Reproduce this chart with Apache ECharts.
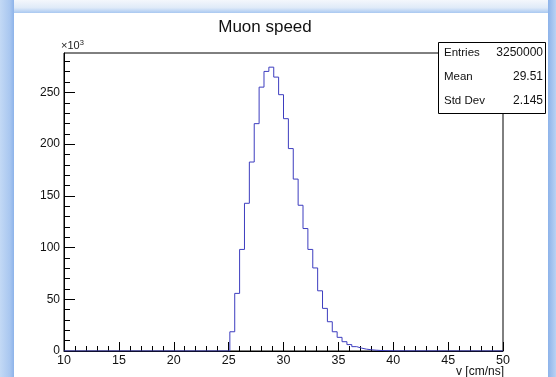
<!DOCTYPE html>
<html>
<head>
<meta charset="utf-8">
<script src="https://cdn.jsdelivr.net/npm/echarts@6/dist/echarts.min.js"></script>
<style>
html,body{margin:0;padding:0;background:#ffffff;}
#c{width:556px;height:377px;}
</style>
</head>
<body>
<div id="c"></div>
<script>
// ---- data ----
const xRange = [10, 50];
const nBins = 90;
const firstBin = 34; // index of first non-empty bin
// bin contents in thousands (x10^3)
const counts = [18.6, 55.7, 98.2, 142.8, 182.7, 219.8, 255.1, 270.3, 274.4, 264.8,
  247.8, 224.6, 195.7, 166.2, 140.9, 118.4, 98.2, 80.3, 58.2, 41.2,
  28.3, 18.6, 13.2, 9.0, 6.2, 4.2, 2.8, 1.8, 1.2, 0.8, 0.5, 0.3, 0.2, 0.1];
const xMajorTicks = [10, 15, 20, 25, 30, 35, 40, 45, 50];
const xMinorTicks = [];
for (let v = 10; v <= 50; v += 1) xMinorTicks.push(v);
const yMajorTicks = [0, 50, 100, 150, 200, 250];
const yMinorTicks = [];
for (let v = 0; v <= 280; v += 10) yMinorTicks.push(v);
const yMax = 288.1;
const statNames = ['Entries', 'Mean', 'Std Dev'];
const statValues = ['3250000', '29.51', '2.145'];
const title = 'Muon speed';
const xTitle = 'v [cm/ns]';

// ---- build step points ----
const binW = (xRange[1] - xRange[0]) / nBins;
const pts = [[xRange[0], 0]];
counts.forEach((c, i) => pts.push([xRange[0] + (firstBin + i) * binW, c]));
pts.push([xRange[0] + (firstBin + counts.length) * binW, 0]);
pts.push([xRange[1], 0]);

const FONT = '"Liberation Sans", Arial, Helvetica, sans-serif';
const chart = echarts.init(document.getElementById('c'), null, {renderer: 'canvas'});

const gx = 64, gTop = 53, gRight = 503, gBottom = 351;

const statGraphics = [];
statNames.forEach((n, i) => {
  const y = 53 + i * 24;
  statGraphics.push({type: 'text', z: 102, x: 444, y: y,
    style: {text: n, font: '11.5px ' + FONT, fill: '#111', align: 'left', verticalAlign: 'middle'}});
  statGraphics.push({type: 'text', z: 102, x: 543, y: y,
    style: {text: statValues[i], font: '12px ' + FONT, fill: '#111', align: 'right', verticalAlign: 'middle'}});
});

chart.setOption({
  animation: false,
  backgroundColor: '#ffffff',
  grid: {left: gx, right: 556 - gRight, top: gTop, bottom: 377 - gBottom,
    show: true, borderColor: '#000', borderWidth: 1, backgroundColor: 'transparent'},
  xAxis: [{
    type: 'value', min: xRange[0], max: xRange[1], position: 'bottom',
    axisLine: {show: true, onZero: false, lineStyle: {color: '#000', width: 1}},
    axisTick: {show: true, inside: true, length: 9, customValues: xMajorTicks, lineStyle: {color: '#000'}},
    axisLabel: {show: true, customValues: xMajorTicks, margin: 3, color: '#111', fontSize: 12.5, fontFamily: FONT},
    splitLine: {show: false}
  }, {
    type: 'value', min: xRange[0], max: xRange[1], position: 'bottom',
    axisLine: {show: false, onZero: false},
    axisTick: {show: true, inside: true, length: 5, customValues: xMinorTicks, lineStyle: {color: '#000'}},
    axisLabel: {show: false}, splitLine: {show: false}
  }],
  yAxis: [{
    type: 'value', min: 0, max: yMax, position: 'left',
    axisLine: {show: true, onZero: false, lineStyle: {color: '#000', width: 1}},
    axisTick: {show: true, inside: true, length: 11, customValues: yMajorTicks, lineStyle: {color: '#000'}},
    axisLabel: {show: true, customValues: yMajorTicks, margin: 4, color: '#111', fontSize: 12, fontFamily: FONT},
    splitLine: {show: false}
  }, {
    type: 'value', min: 0, max: yMax, position: 'left',
    axisLine: {show: false, onZero: false},
    axisTick: {show: true, inside: true, length: 6, customValues: yMinorTicks, lineStyle: {color: '#000'}},
    axisLabel: {show: false}, splitLine: {show: false}
  }],
  series: [{
    type: 'line', step: 'end', data: pts, xAxisIndex: 0, yAxisIndex: 0,
    showSymbol: false, symbol: 'none',
    lineStyle: {color: '#3d3dbf', width: 1},
    z: 5
  }],
  graphic: [
    // window frame decoration
    {type: 'rect', z: -10, shape: {x: 0, y: 0, width: 556, height: 13},
      style: {fill: new echarts.graphic.LinearGradient(0, 0, 0, 1, [{offset: 0, color: '#f4f7fc'}, {offset: 0.6, color: '#dfeaf8'}, {offset: 1, color: '#a9c8f1'}])}},
    {type: 'rect', z: -10, shape: {x: 0, y: 0, width: 14, height: 377},
      style: {fill: new echarts.graphic.LinearGradient(0, 0, 1, 0, [{offset: 0, color: '#c3d9f5'}, {offset: 0.7, color: '#a9c7f0'}, {offset: 1, color: '#8db3ea'}])}},
    {type: 'rect', z: -10, shape: {x: 548, y: 0, width: 8, height: 377},
      style: {fill: new echarts.graphic.LinearGradient(0, 0, 1, 0, [{offset: 0, color: '#8db3ea'}, {offset: 1, color: '#b9d2f3'}])}},
    // title
    {type: 'text', z: 100, x: 265, y: 27,
      style: {text: title, font: '17px ' + FONT, fill: '#111', align: 'center', verticalAlign: 'middle'}},
    // x10^3
    {type: 'text', z: 100, left: 61, top: 39,
      style: {rich: {a: {fontSize: 11, fontFamily: FONT, fill: '#222'}, b: {fontSize: 7.5, fontFamily: FONT, fill: '#222', verticalAlign: 'top', padding: [0, 0, 6, 0]}},
        text: '{a|×10}{b|3}'}},
    // x axis title
    {type: 'text', z: 100, x: 504, y: 372,
      style: {text: xTitle, font: '12px ' + FONT, fill: '#111', align: 'right', verticalAlign: 'middle'}},
    // stats box
    {type: 'rect', z: 101, shape: {x: 438.5, y: 42.5, width: 107, height: 71},
      style: {fill: '#fff', stroke: '#000', lineWidth: 1}}
  ].concat(statGraphics)
});
</script>
</body>
</html>
